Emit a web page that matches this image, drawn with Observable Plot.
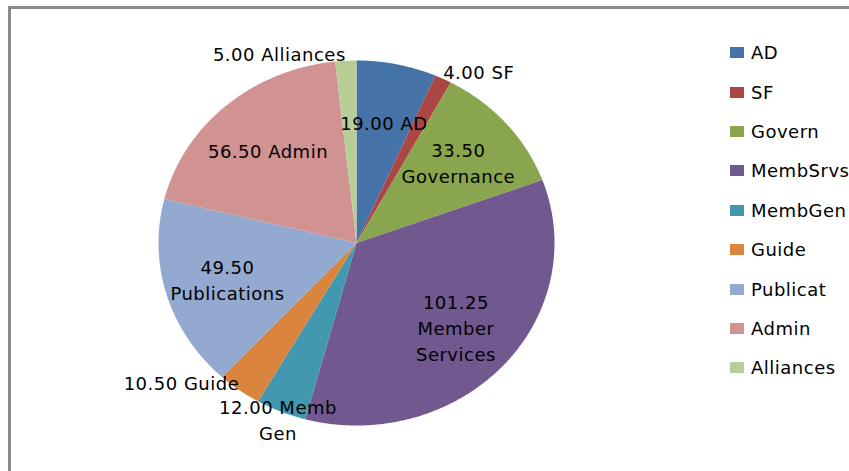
<!DOCTYPE html>
<html><head><meta charset="utf-8">
<script src="https://cdn.jsdelivr.net/npm/d3@7"></script>
<script src="https://cdn.jsdelivr.net/npm/@observablehq/plot@0.6"></script>
<style>
html,body{margin:0;padding:0;background:#fff;overflow:hidden;width:849px;height:471px;}
#wrap{position:relative;width:849px;height:471px;font-family:"DejaVu Sans",sans-serif;overflow:hidden;}
#chart svg{display:block;background:transparent;}
#frame{position:absolute;left:8px;top:6px;width:900px;height:520px;border-left:3px solid #8a8a8a;border-top:3px solid #8a8a8a;pointer-events:none;}
#legend{position:absolute;left:730px;top:33px;font-size:18px;letter-spacing:0.5px;color:#000;}
.item{display:flex;align-items:center;height:39.4px;white-space:nowrap;}
.sw{width:14px;height:11px;margin-right:7px;flex:none;}
</style></head><body><div id="wrap"><div id="chart"></div><div id="legend"></div><div id="frame"></div></div>
<script>
const categories = ["AD","SF","Govern","MembSrvs","MembGen","Guide","Publicat","Admin","Alliances"];
const values = [19, 4, 33.5, 101.25, 12, 10.5, 49.5, 56.5, 5];
const labelNames = ["AD","SF","Governance","Member\nServices","Memb\nGen","Guide","Publications","Admin","Alliances"];
const labelBreakAfterValue = [false,false,true,true,false,false,true,false,false];
const colors = ["#4572A7","#AA4643","#89A54E","#71588F","#4198AF","#DB843D","#93A9CF","#D19392","#B9CD96"];

const total = d3.sum(values);
const arcs = d3.pie().sort(null).value(d => d)(values);

// slice outlines in unit-circle space (y up), angle clockwise from 12 o'clock
const slicePts = [];
arcs.forEach((a, i) => {
  const n = Math.max(2, Math.ceil((a.endAngle - a.startAngle) / (Math.PI / 360)));
  slicePts.push({cat: categories[i], x: 0, y: 0});
  for (let k = 0; k <= n; k++) {
    const t = a.startAngle + (a.endAngle - a.startAngle) * k / n;
    slicePts.push({cat: categories[i], x: Math.sin(t), y: Math.cos(t)});
  }
  slicePts.push({cat: categories[i], x: 0, y: 0});
});

// labels: inside for larger slices, outside (best fit) for small ones
const labels = arcs.map((a, i) => {
  const m = (a.startAngle + a.endAngle) / 2;
  const s = Math.sin(m), c = Math.cos(m);
  const outside = values[i] / total < 0.05;
  let place = "inside", r = 0.68;
  if (outside) {
    if (c < -0.85) { place = "bottom"; r = 1.04; }
    else { place = s < 0 ? "left" : "right"; r = 1.0; }
  }
  return {
    x: r * s, y: r * c, place,
    text: values[i].toFixed(2) + (labelBreakAfterValue[i] ? "\n" : " ") + labelNames[i]
  };
});

const textOpts = {x: "x", y: "y", text: "text", fontSize: 18, lineHeight: 1.45, fill: "#000"};

const plot = Plot.plot({
  width: 849,
  height: 471,
  marginLeft: 158,
  marginRight: 295,
  marginTop: 60,
  marginBottom: 46,
  x: {domain: [-1, 1], axis: null},
  y: {domain: [-1, 1], axis: null},
  color: {domain: categories, range: colors},
  style: {fontFamily: "DejaVu Sans, sans-serif", letterSpacing: "0.5px", background: "transparent", overflow: "visible"},
  marks: [
    Plot.line(slicePts, {x: "x", y: "y", z: "cat", fill: "cat", stroke: null, curve: "linear"}),
    Plot.text(labels.filter(d => d.place === "inside"), {...textOpts, textAnchor: "middle"}),
    Plot.text(labels.filter(d => d.place === "bottom"), {...textOpts, textAnchor: "middle"}),
    Plot.text(labels.filter(d => d.place === "left"), {...textOpts, textAnchor: "end", lineAnchor: "bottom"}),
    Plot.text(labels.filter(d => d.place === "right"), {...textOpts, textAnchor: "start", lineAnchor: "bottom"})
  ]
});
document.getElementById("chart").appendChild(plot);

const legend = document.getElementById("legend");
categories.forEach((c, i) => {
  const item = document.createElement("div");
  item.className = "item";
  const sw = document.createElement("span");
  sw.className = "sw";
  sw.style.background = colors[i];
  const lab = document.createElement("span");
  lab.textContent = c;
  item.appendChild(sw);
  item.appendChild(lab);
  legend.appendChild(item);
});
</script>
</body></html>
